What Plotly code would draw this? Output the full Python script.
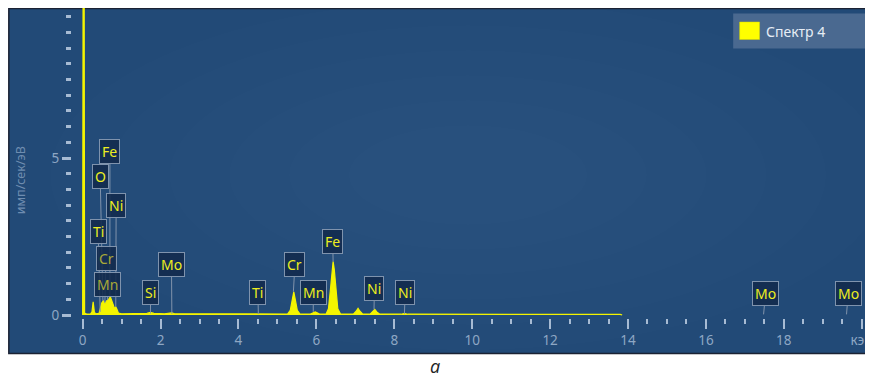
import plotly.graph_objects as go

# ---------------- data ----------------
series_name = "Спектр 4"
energy_kev = [0.0, 0.015, 0.035, 0.05, 0.10, 0.20, 0.24, 0.27, 0.30, 0.33,
              0.42, 0.46, 0.49, 0.53, 0.57, 0.61, 0.65, 0.68, 0.71, 0.74,
              0.78, 0.82, 0.85, 0.88, 0.92, 1.00, 1.40, 1.65, 1.74, 1.83,
              2.10, 2.22, 2.29, 2.36, 3.00, 4.40, 4.51, 4.62, 5.26, 5.33,
              5.38, 5.42, 5.46, 5.51, 5.58, 5.85, 5.92, 5.97, 6.02, 6.08,
              6.25, 6.31, 6.36, 6.40, 6.43, 6.46, 6.50, 6.55, 6.62, 6.95,
              7.02, 7.07, 7.12, 7.19, 7.38, 7.44, 7.50, 7.55, 7.62, 8.18,
              8.26, 8.34, 10.0, 12.0, 13.80, 13.85]
counts = [0.0, 14.0, 14.0, 0.06, 0.03, 0.03, 0.10, 0.42, 0.10, 0.04,
          0.05, 0.22, 0.38, 0.45, 0.36, 0.44, 0.48, 0.52, 0.58, 0.50,
          0.34, 0.20, 0.26, 0.18, 0.06, 0.04, 0.04, 0.05, 0.08, 0.05,
          0.04, 0.05, 0.07, 0.04, 0.035, 0.03, 0.04, 0.03, 0.03, 0.15,
          0.48, 0.74, 0.48, 0.15, 0.03, 0.03, 0.07, 0.10, 0.07, 0.03,
          0.03, 0.20, 0.80, 1.45, 1.70, 1.45, 0.80, 0.20, 0.03, 0.03,
          0.12, 0.21, 0.12, 0.03, 0.03, 0.10, 0.18, 0.10, 0.03, 0.025,
          0.05, 0.025, 0.025, 0.02, 0.02, 0.0]

# element labels: name, line energy (arrow tip), tip height, box centre (keV, counts)
label_names  = ["Fe", "O", "Ni", "Ti", "Cr", "Mn", "Si", "Mo", "Ti", "Cr",
                "Mn", "Fe", "Ni", "Ni", "Mo", "Mo"]
label_energy = [0.70, 0.52, 0.85, 0.45, 0.57, 0.64, 1.74, 2.29, 4.51, 5.41,
                5.92, 6.43, 7.48, 8.26, 17.48, 19.61]
label_height = [0.58, 0.45, 0.26, 0.10, 0.38, 0.48, 0.05, 0.04, 0.03, 0.74,
                0.10, 1.70, 0.18, 0.03, 0.02, 0.02]
box_x = [0.70, 0.45, 0.86, 0.40, 0.60, 0.65, 1.745, 2.28, 4.50, 5.45,
         5.92, 6.42, 7.49, 8.28, 17.53, 19.65]
box_y = [5.20, 4.40, 3.50, 2.65, 1.80, 0.98, 0.72, 1.62, 0.72, 1.62,
         0.72, 2.33, 0.86, 0.72, 0.67, 0.67]
label_dim = [False, False, False, False, True, True, False, False, False, False,
             False, False, False, False, False, False]

x_tickvals = [0, 2, 4, 6, 8, 10, 12, 14, 16, 18, 20]
x_ticktext = ["0", "2", "4", "6", "8", "10", "12", "14", "16", "18", "кэВ"]
y_tickvals = [0, 5]
y_ticktext = ["0", "5"]

# ---------------- layout helpers ----------------
# the page body has an 8px margin, so the figure starts at (8, 8) of the window
OFF = 8
W, H = 873 - OFF, 379 - OFF
ML, MR, MT, MB = 72 - OFF, 0, 8 - OFF, 379 - 318
PW, PH = W - ML - MR, H - MT - MB


def px(xp):  # window pixel x -> paper fraction
    return (xp - OFF - ML) / PW


def py(yp):  # window pixel y -> paper fraction
    return (379 - MB - yp) / PH


FONT = "Noto Sans"
YELLOW = "#f4f400"

fig = go.Figure()
fig.add_trace(go.Scatter(
    x=energy_kev, y=counts, mode="lines", name=series_name,
    line=dict(color=YELLOW, width=1.2), fill="tozeroy", fillcolor=YELLOW,
    showlegend=False, hoverinfo="skip"))

shapes = [
    dict(type="rect", xref="paper", yref="paper", x0=px(8.5), x1=px(880),
         y0=py(353.5), y1=py(8.5), fillcolor="#224a77",
         line=dict(color="#1b2233", width=1.5), layer="below"),
]
# subtle radial glow
cx, cy = 470, 175
for rx, ry in [(420, 175), (360, 150), (300, 125), (240, 100), (180, 75), (120, 50)]:
    shapes.append(dict(type="circle", xref="paper", yref="paper",
                       x0=px(cx - rx), x1=px(cx + rx), y0=py(cy + ry), y1=py(cy - ry),
                       fillcolor="rgba(255,255,255,0.007)", line=dict(width=0), layer="below"))
# legend box
shapes.append(dict(type="rect", xref="paper", yref="paper", x0=px(736.5), x1=px(880),
                   y0=py(48.5), y1=py(13.5), fillcolor="#4a6990", line=dict(width=0)))
shapes.append(dict(type="rect", xref="paper", yref="paper", x0=px(743), x1=px(763),
                   y0=py(39.5), y1=py(22), fillcolor="#ffff00", line=dict(color="#d8d800", width=0.5)))

annotations = [
    dict(text=series_name, xref="paper", yref="paper", x=px(767), y=py(31),
         xanchor="left", yanchor="middle", showarrow=False,
         font=dict(family=FONT, size=14, color="#e6edf5")),
    dict(text="имп/сек/эВ", xref="paper", yref="paper", x=px(20), y=py(180),
         textangle=-90, showarrow=False, xanchor="center", yanchor="middle",
         font=dict(family=FONT, size=12.5, color="#6f8db0")),
    dict(text="<i>а</i>", xref="paper", yref="paper", x=px(437), y=py(366),
         showarrow=False, xanchor="center", yanchor="middle",
         font=dict(family="Open Sans", size=18, color="#222222")),
]

for name, e, h, bx, by, dim in zip(label_names, label_energy, label_height, box_x, box_y, label_dim):
    annotations.append(dict(
        x=e, y=h, xref="x", yref="y", ax=bx, ay=by, axref="x", ayref="y",
        text=name, showarrow=True, arrowhead=0, arrowwidth=1, arrowcolor="#8193ab",
        standoff=0, startstandoff=0,
        bgcolor="rgba(18,42,76,0.88)", bordercolor="#7f93ad", borderwidth=1, borderpad=2,
        font=dict(family=FONT, size=14, color="#a8a838" if dim else "#eeee20")))

fig.update_layout(
    width=W, height=H,
    margin=dict(l=ML, r=MR, t=MT, b=MB, pad=0),
    paper_bgcolor="white", plot_bgcolor="rgba(0,0,0,0)",
    shapes=shapes, annotations=annotations, showlegend=False,
    xaxis=dict(range=[(72 - 82.7) / 39.15, (873 - 82.7) / 39.15], tickvals=x_tickvals, ticktext=x_ticktext,
               ticks="outside", ticklen=10, tickwidth=2, tickcolor="#a7bbd3",
               showgrid=False, zeroline=False, showline=False, ticklabeloverflow="allow",
               tickfont=dict(family=FONT, size=13.5, color="#8ea7c4"),
               minor=dict(dtick=0.5, ticks="outside", ticklen=5, tickwidth=2, tickcolor="#a7bbd3", showgrid=False)),
    yaxis=dict(range=[(315 - 318) / 31.4, (315 - 8) / 31.4], tickvals=y_tickvals, ticktext=y_ticktext,
               ticks="outside", ticklen=9, tickwidth=2.5, tickcolor="#a7bbd3",
               showgrid=False, zeroline=False, showline=False,
               tickfont=dict(family=FONT, size=13.5, color="#8ea7c4"),
               minor=dict(dtick=0.5, ticks="outside", ticklen=5, tickwidth=2.5, tickcolor="#a7bbd3", showgrid=False)),
)

fig.write_html("out.html")
